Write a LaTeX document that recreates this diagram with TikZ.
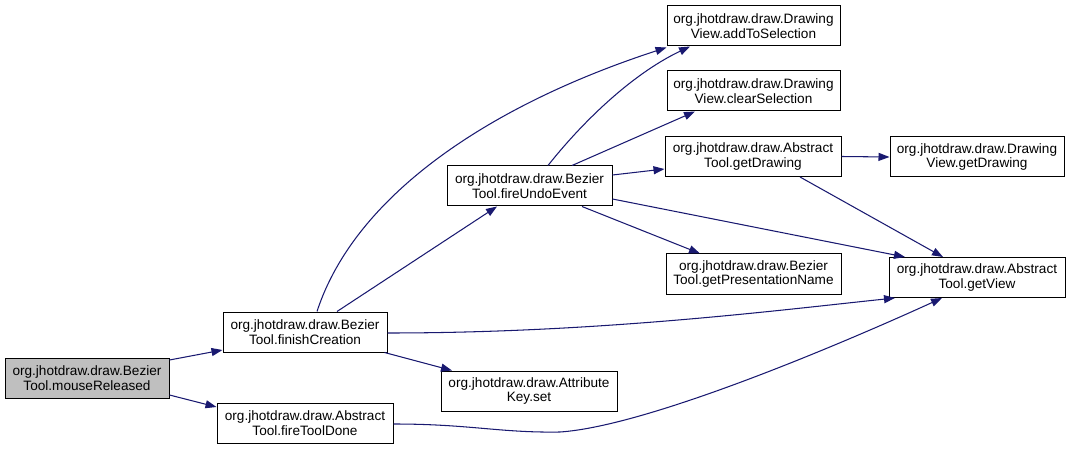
\documentclass[tikz,border=0pt]{standalone}
\usepackage{fontspec}
\setmainfont{Liberation Sans}
\usetikzlibrary{arrows.meta,calc}
\definecolor{edgeblue}{HTML}{191970}
\definecolor{curgray}{HTML}{BFBFBF}
\begin{document}
\begin{tikzpicture}[x=1pt,y=-1pt,
  box/.style={draw=black,line width=1pt,fill=white,minimum height=40pt,inner sep=0pt,align=center,font=\fontsize{13.6}{14.5}\selectfont},
  edge/.style={draw=edgeblue,line width=1.05pt,-{Triangle[length=11pt,width=8pt]}}]
\useasboundingbox (0,0) rectangle (1071,449);
% nodes
\node[box,fill=curgray,minimum width=164pt] (mr) at (87,378) {org.jhotdraw.draw.Bezier\\Tool.mouseReleased};
\node[box,minimum width=164pt] (fc) at (305,332) {org.jhotdraw.draw.Bezier\\Tool.finishCreation};
\node[box,minimum width=176pt] (ftd) at (305,423) {org.jhotdraw.draw.Abstract\\Tool.fireToolDone};
\node[box,minimum width=165pt] (fue) at (529.5,186) {org.jhotdraw.draw.Bezier\\Tool.fireUndoEvent};
\node[box,minimum width=173pt] (ats) at (753.5,26) {org.jhotdraw.draw.Drawing\\View.addToSelection};
\node[box,minimum width=173pt] (cs) at (753.5,91) {org.jhotdraw.draw.Drawing\\View.clearSelection};
\node[box,minimum width=176pt] (gd) at (753,156.5) {org.jhotdraw.draw.Abstract\\Tool.getDrawing};
\node[box,minimum width=174pt] (dvgd) at (977,157) {org.jhotdraw.draw.Drawing\\View.getDrawing};
\node[box,minimum width=175pt] (gpn) at (753.5,274) {org.jhotdraw.draw.Bezier\\Tool.getPresentationName};
\node[box,minimum width=176pt] (gv) at (977,277.5) {org.jhotdraw.draw.Abstract\\Tool.getView};
\node[box,minimum width=176pt] (aks) at (529,391) {org.jhotdraw.draw.Attribute\\Key.set};
% edges
\draw[edge] ($(mr.east)+(0,-18)$) -- ($(fc.west)+(0,18)$);
\draw[edge] ($(mr.east)+(0,17)$) -- ($(ftd.west)+(0,-16)$);
\draw[edge] ($(fc.north)+(32,0)$) -- ($(fue.south)+(-32.5,0)$);
\draw[edge] ($(fc.north)+(12,0)$) .. controls (355,195) and (490,105) .. ($(ats.south west)+(0,1)$);
\draw[edge] ($(fue.north)+(18.5,0)$) .. controls (580,125) and (630,75) .. ($(ats.south)+(-63.5,0)$);
\draw[edge] ($(fue.north)+(42.5,0)$) -- ($(cs.south)+(-58.5,0)$);
\draw[edge] ($(fue.east)+(0,-11)$) -- ($(gd.west)+(0,12.5)$);
\draw[edge] ($(fue.south)+(52.5,0)$) -- ($(gpn.north)+(-53.5,0)$);
\draw[edge] ($(fue.east)+(0,13)$) -- ($(gv.north)+(-72,0)$);
\draw[edge] (gd.east) -- (dvgd.west);
\draw[edge] ($(gd.south)+(47,0)$) -- ($(gv.north)+(-34,0)$);
\draw[edge] ($(fc.south east)+(-3,0)$) -- ($(aks.north)+(-77,0)$);
\draw[edge] ($(fc.east)+(0,1)$) .. controls (600,333) and (780,310) .. ($(gv.south)+(-82,0)$);
\draw[edge] ($(ftd.east)+(0,1)$) .. controls (470,424) and (500,433) .. (560,432) .. controls (650,426) and (850,340) .. ($(gv.south)+(-35,0)$);
\end{tikzpicture}
\end{document}
